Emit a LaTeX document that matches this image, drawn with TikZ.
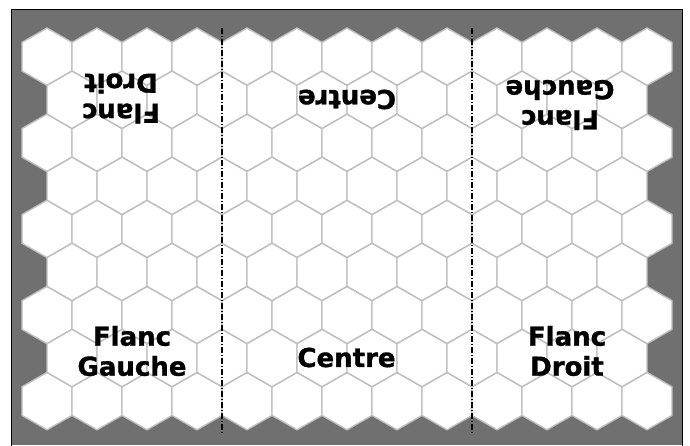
\documentclass[tikz,border=0pt]{standalone}
\usepackage{fontspec}
\setmainfont{DejaVu Sans}
\newfontfamily\labelfont[BoldFont={DejaVu Sans Bold},BoldFeatures={FakeBold=1.2}]{DejaVu Sans}
\definecolor{boardgrey}{RGB}{112,112,112}
\definecolor{hexgrey}{RGB}{190,190,190}
\begin{document}
\begin{tikzpicture}[x=1pt,y=-1pt,
  hexcell/.style={fill=white,draw=hexgrey,line width=1.4pt,line join=miter},
  sectorline/.style={black,line width=1.3pt,dash pattern=on 6pt off 1.8pt on 1.4pt off 1.8pt},
  zonelabel/.style={font=\labelfont\bfseries\fontsize{26}{30}\selectfont,align=center,inner sep=0pt}]
\useasboundingbox (0,0) rectangle (690,445);
\fill[white] (0,0) rectangle (690,445);
\fill[boardgrey] (11.5,9.5) rectangle (682.5,445);
\draw[black,line width=1pt] (11.5,446) -- (11.5,9.5) -- (682.5,9.5) -- (682.5,446);
% hex grid
\foreach \r in {0,2,4,6,8}{
  \foreach \c in {0,...,12}{
    \pgfmathsetmacro\cx{47+50*\c}
    \pgfmathsetmacro\cy{56.7+43.05*\r}
    \draw[hexcell,shift={(\cx,\cy)}] (0,-28.7) -- (25,-14.35) -- (25,14.35) -- (0,28.7) -- (-25,14.35) -- (-25,-14.35) -- cycle;
  }
}
\foreach \r in {1,3,5,7}{
  \foreach \c in {0,...,11}{
    \pgfmathsetmacro\cx{72+50*\c}
    \pgfmathsetmacro\cy{56.7+43.05*\r}
    \draw[hexcell,shift={(\cx,\cy)}] (0,-28.7) -- (25,-14.35) -- (25,14.35) -- (0,28.7) -- (-25,14.35) -- (-25,-14.35) -- cycle;
  }
}
% sector lines
\coordinate (s1top) at (222,28);
\coordinate (s1bot) at (222,432);
\coordinate (s2top) at (472,28);
\coordinate (s2bot) at (472,432);
\draw[sectorline] (s1top) -- (s1bot);
\draw[sectorline] (s2top) -- (s2bot);
% labels
\node[zonelabel] (flg) at (132,351) {Flanc\\Gauche};
\node[zonelabel] (ctr) at (346.5,357.5) {Centre};
\node[zonelabel] (fld) at (567,351) {Flanc\\Droit};
\node[zonelabel,rotate=180] (tfld) at (121,98.5) {Flanc\\Droit};
\node[zonelabel,rotate=180] (tctr) at (347,99.5) {Centre};
\node[zonelabel,rotate=180] (tflg) at (560,105) {Flanc\\Gauche};
\end{tikzpicture}
\end{document}
